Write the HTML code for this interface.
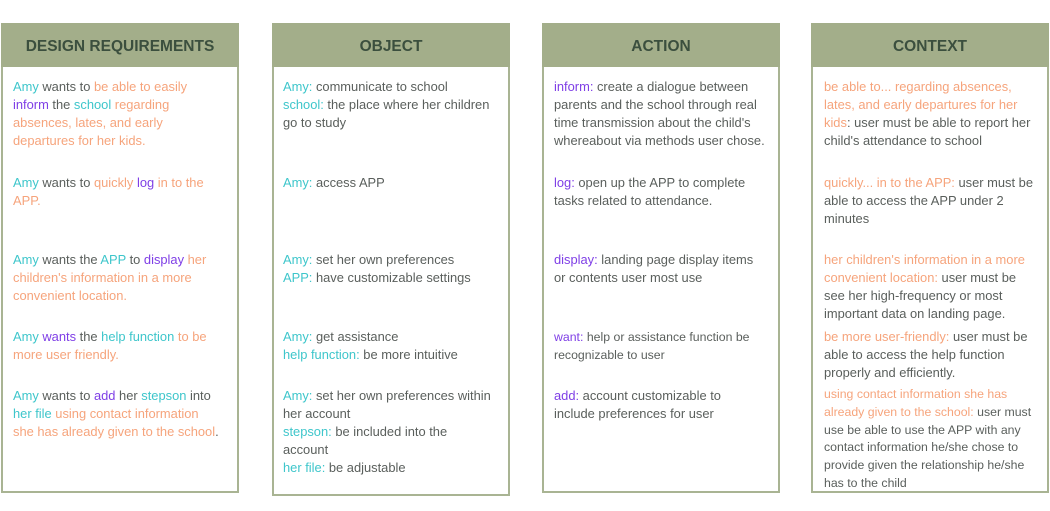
<!DOCTYPE html>
<html><head><meta charset="utf-8"><style>
body{margin:0;width:1050px;height:511px;background:#fff;position:relative;overflow:hidden;font-family:"Liberation Sans",sans-serif;}
.box{position:absolute;top:23px;width:234px;border:2px solid #a9b493;border-top:none;box-sizing:content-box;}
.hd{height:44px;background:#a3ae8a;color:#3b4f3e;font-weight:bold;font-size:15.5px;text-align:center;line-height:47px;margin:0 -2px;}
.p{position:absolute;font-size:12.9px;line-height:18px;color:#5a5f5c;white-space:nowrap;}
.c{color:#3ec6cb}.o{color:#f6a47c}.v{color:#7f3fe6}
</style></head><body>
<div class="box" style="left:1px;height:468px"><div class="hd">DESIGN REQUIREMENTS</div></div>
<div class="box" style="left:272px;height:471px"><div class="hd">OBJECT</div></div>
<div class="box" style="left:542px;height:468px"><div class="hd">ACTION</div></div>
<div class="box" style="left:811px;height:468px"><div class="hd">CONTEXT</div></div>

<div class="p" style="left:13px;top:78px"><span class="c">Amy</span> wants to <span class="o">be able to easily</span><br><span class="v">inform</span> the <span class="c">school</span> <span class="o">regarding</span><br><span class="o">absences, lates, and early</span><br><span class="o">departures for her kids.</span></div>
<div class="p" style="left:13px;top:174px"><span class="c">Amy</span> wants to <span class="o">quickly</span> <span class="v">log</span> <span class="o">in to the</span><br><span class="o">APP.</span></div>
<div class="p" style="left:13px;top:251px"><span class="c">Amy</span> wants the <span class="c">APP</span> to <span class="v">display</span> <span class="o">her</span><br><span class="o">children's information in a more</span><br><span class="o">convenient location.</span></div>
<div class="p" style="left:13px;top:328px"><span class="c">Amy</span> <span class="v">wants</span> the <span class="c">help function</span> <span class="o">to be</span><br><span class="o">more user friendly.</span></div>
<div class="p" style="left:13px;top:387px"><span class="c">Amy</span> wants to <span class="v">add</span> her <span class="c">stepson</span> into<br><span class="c">her file</span> <span class="o">using contact information</span><br><span class="o">she has already given to the school</span>.</div>

<div class="p" style="left:283px;top:78px"><span class="c">Amy:</span> communicate to school<br><span class="c">school:</span> the place where her children<br>go to study</div>
<div class="p" style="left:283px;top:174px"><span class="c">Amy:</span> access APP</div>
<div class="p" style="left:283px;top:251px"><span class="c">Amy:</span> set her own preferences<br><span class="c">APP:</span> have customizable settings</div>
<div class="p" style="left:283px;top:328px"><span class="c">Amy:</span> get assistance<br><span class="c">help function:</span> be more intuitive</div>
<div class="p" style="left:283px;top:387px"><span class="c">Amy:</span> set her own preferences within<br>her account<br><span class="c">stepson:</span> be included into the<br>account<br><span class="c">her file:</span> be adjustable</div>

<div class="p" style="left:554px;top:78px"><span class="v">inform:</span> create a dialogue between<br>parents and the school through real<br>time transmission about the child's<br>whereabout via methods user chose.</div>
<div class="p" style="left:554px;top:174px"><span class="v">log:</span> open up the APP to complete<br>tasks related to attendance.</div>
<div class="p" style="left:554px;top:251px"><span class="v">display:</span> landing page display items<br>or contents user most use</div>
<div class="p" style="left:554px;top:328px;font-size:12.3px"><span class="v">want:</span> help or assistance function be<br>recognizable to user</div>
<div class="p" style="left:554px;top:387px"><span class="v">add:</span> account customizable to<br>include preferences for user</div>

<div class="p" style="left:824px;top:78px"><span class="o">be able to... regarding absences,</span><br><span class="o">lates, and early departures for her</span><br><span class="o">kids</span>: user must be able to report her<br>child's attendance to school</div>
<div class="p" style="left:824px;top:174px"><span class="o">quickly... in to the APP:</span> user must be<br>able to access the APP under 2<br>minutes</div>
<div class="p" style="left:824px;top:251px"><span class="o">her children's information in a more</span><br><span class="o">convenient location:</span> user must be<br>see her high-frequency or most<br>important data on landing page.</div>
<div class="p" style="left:824px;top:328px"><span class="o">be more user-friendly:</span> user must be<br>able to access the help function<br>properly and efficiently.</div>
<div class="p" style="left:824px;top:386px;font-size:12.3px;line-height:17.8px"><span class="o">using contact information she has</span><br><span class="o">already given to the school:</span> user must<br>use be able to use the APP with any<br>contact information he/she chose to<br>provide given the relationship he/she<br>has to the child</div>
</body></html>
